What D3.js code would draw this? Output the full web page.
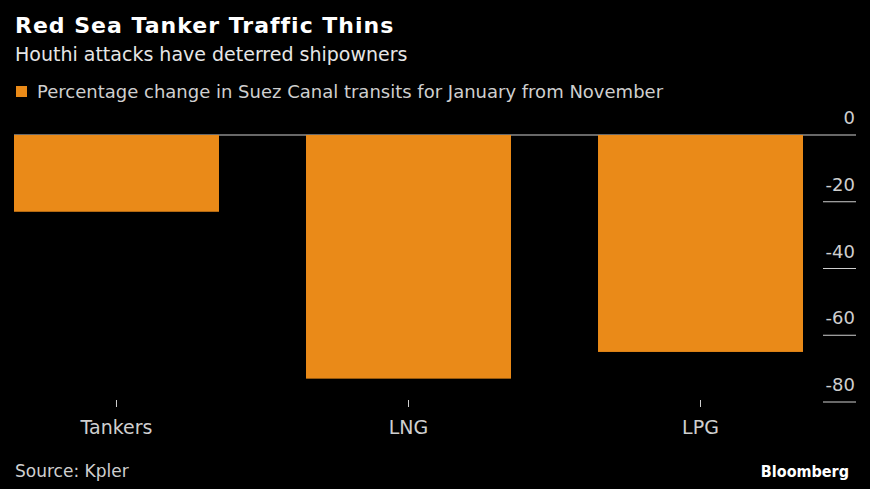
<!DOCTYPE html>
<html><head><meta charset="utf-8">
<script src="https://cdn.jsdelivr.net/npm/d3@7"></script>
<style>html,body{margin:0;padding:0;background:#000;}svg{display:block;}</style>
</head><body>
<svg id="c" width="870" height="489"></svg>
<script>
const categories = ["Tankers", "LNG", "LPG"];
const values = [-23, -73, -65];
const yTicks = [0, -20, -40, -60, -80];
const seriesName = "Percentage change in Suez Canal transits for January from November";

const svg = d3.select("#c");
const W = 870, H = 489;
svg.append("rect").attr("width", W).attr("height", H).attr("fill", "#000");

const font = "'DejaVu Sans',sans-serif";
const fontC = "'DejaVu Sans Condensed','DejaVu Sans',sans-serif";
const barColor = "#ea8a18";
const textColor = "#cfcfcf";

svg.append("text").attr("x", 15).attr("y", 33).attr("fill", "#fff")
  .attr("font-family", font).attr("font-weight", "bold").attr("font-size", 22)
  .attr("letter-spacing", 1)
  .text("Red Sea Tanker Traffic Thins");
svg.append("text").attr("x", 15).attr("y", 61).attr("fill", "#e6e6e6")
  .attr("font-family", font).attr("font-size", 19)
  .text("Houthi attacks have deterred shipowners");

svg.append("rect").attr("x", 16).attr("y", 86).attr("width", 11).attr("height", 11).attr("fill", barColor);
svg.append("text").attr("x", 37).attr("y", 98).attr("fill", textColor)
  .attr("font-family", font).attr("font-size", 18).text(seriesName);

const x = d3.scaleBand().domain(categories).range([14, 803]).paddingInner(0.298).paddingOuter(0);
const y = d3.scaleLinear().domain([0, -80]).range([135, 402]);

// zero line
svg.append("line").attr("x1", 14).attr("x2", 856).attr("y1", y(0)).attr("y2", y(0))
  .attr("stroke", "#cfcfcf").attr("stroke-width", 1.2);

svg.selectAll("rect.bar").data(values).enter().append("rect").attr("class", "bar")
  .attr("x", (d, i) => x(categories[i]))
  .attr("y", d => y(0))
  .attr("width", x.bandwidth())
  .attr("height", d => y(d) - y(0))
  .attr("fill", barColor);

// y axis on right
const yAxis = svg.append("g");
yTicks.forEach(t => {
  if (t !== 0) {
    yAxis.append("line").attr("x1", 823).attr("x2", 856).attr("y1", y(t)).attr("y2", y(t))
      .attr("stroke", "#cfcfcf").attr("stroke-width", 1.2);
  }
  yAxis.append("text").attr("x", 855).attr("y", y(t) - 11).attr("text-anchor", "end")
    .attr("fill", textColor).attr("font-family", font).attr("font-size", 18).text(t);
});

// x axis
const xAxis = d3.axisBottom(x).tickSize(7).tickPadding(14);
const gx = svg.append("g").attr("transform", "translate(0,400)").call(xAxis);
gx.select(".domain").remove();
gx.selectAll(".tick line").attr("stroke", "#cfcfcf").attr("stroke-width", 1);
gx.selectAll(".tick text").attr("fill", textColor).attr("font-family", font).attr("font-size", 19);

svg.append("text").attr("x", 15).attr("y", 477).attr("fill", textColor)
  .attr("font-family", font).attr("font-size", 17).text("Source: Kpler");
svg.append("text").attr("x", 849).attr("y", 477).attr("text-anchor", "end").attr("fill", "#fff")
  .attr("font-family", fontC).attr("font-weight", "bold").attr("font-size", 16).text("Bloomberg");
</script>
</body></html>
